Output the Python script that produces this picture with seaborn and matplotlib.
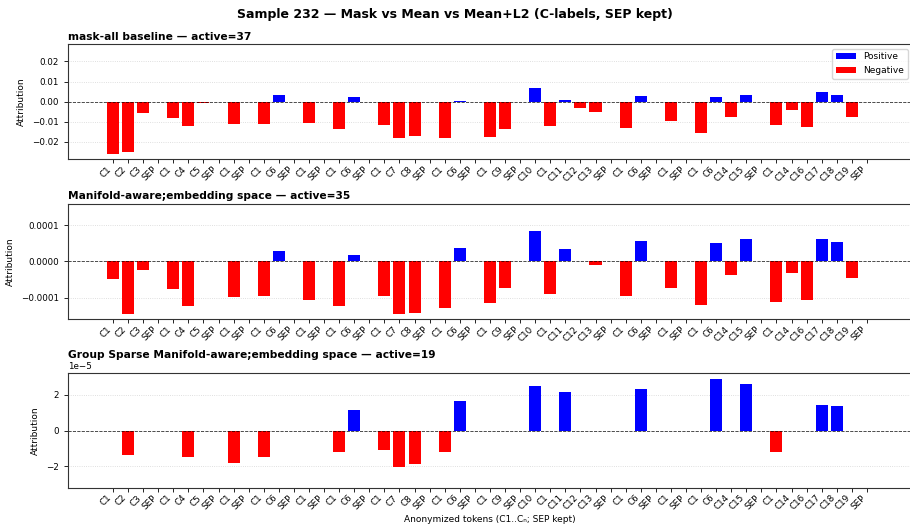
import numpy as np
import pandas as pd
import matplotlib
matplotlib.use("Agg")
import matplotlib.pyplot as plt
import seaborn as sns

tokens = [
    "C1", "C2", "C3", "SEP", "C1", "C4", "C5", "SEP", "C1", "SEP",
    "C1", "C6", "SEP", "C1", "SEP", "C1", "C6", "SEP", "C1", "C7",
    "C8", "SEP", "C1", "C6", "SEP", "C1", "C9", "SEP", "C10", "C1",
    "C11", "C12", "C13", "SEP", "C1", "C6", "SEP", "C1", "SEP", "C1",
    "C6", "C14", "C15", "SEP", "C1", "C14", "C16", "C17", "C18", "C19",
    "SEP",
]

mask_vals = [
    -0.0259, -0.0249, -0.0054, 0.0, -0.0079, -0.0121, -0.0005, 0.0, -0.0111, 0.0,
    -0.0111, 0.0033, 0.0, -0.0108, 0.0, -0.0134, 0.0021, 0.0, -0.0118, -0.0179,
    -0.0172, 0.0, -0.0179, 0.0003, 0.0, -0.0177, -0.0138, 0.0, 0.0066, -0.0121,
    0.0007, -0.0034, -0.0049, 0.0, -0.0131, 0.0028, 0.0, -0.0097, 0.0, -0.0156,
    0.0025, -0.0074, 0.0033, 0.0, -0.0116, -0.0039, -0.0126, 0.0048, 0.0034, -0.0075,
    0.0,
]

mean_vals = [
    -4.9e-5, -14.4e-5, -2.4e-5, 0.0, -7.6e-5, -12.3e-5, 0.0, 0.0, -9.7e-5, 0.0,
    -9.4e-5, 3.0e-5, 0.0, -10.7e-5, 0.0, -12.4e-5, 1.85e-5, 0.0, -9.6e-5, -14.5e-5,
    -14.1e-5, 0.0, -12.9e-5, 3.6e-5, 0.0, -11.5e-5, -7.2e-5, 0.0, 8.5e-5, -9.0e-5,
    3.4e-5, 0.0, -0.93e-5, 0.0, -9.4e-5, 5.5e-5, 0.0, -7.3e-5, 0.0, -12.0e-5,
    5.0e-5, -3.7e-5, 6.1e-5, 0.0, -11.2e-5, -3.1e-5, -10.6e-5, 6.1e-5, 5.3e-5, -4.5e-5,
    0.0,
]

l2_vals = [
    0.0, -1.36e-5, 0.0, 0.0, 0.0, -1.46e-5, 0.0, 0.0, -1.84e-5, 0.0,
    -1.51e-5, 0.0, 0.0, 0.0, 0.0, -1.22e-5, 1.16e-5, 0.0, -1.07e-5, -2.03e-5,
    -1.88e-5, 0.0, -1.22e-5, 1.64e-5, 0.0, 0.0, 0.0, 0.0, 2.49e-5, 0.0,
    2.18e-5, 0.0, 0.0, 0.0, 0.0, 2.32e-5, 0.0, 0.0, 0.0, 0.0,
    2.91e-5, 0.0, 2.62e-5, 0.0, -1.18e-5, 0.0, 0.0, 1.40e-5, 1.38e-5, 0.0,
    0.0,
]

panel_names = [
    "mask-all baseline",
    "Manifold-aware;embedding space",
    "Group Sparse Manifold-aware;embedding space",
]

fig = plt.figure(figsize=(9.1, 5.26), dpi=100)
rects = [
    [0.0744, 0.6977, 0.928, 0.2181],
    [0.0744, 0.3930, 0.928, 0.2201],
    [0.0744, 0.0728, 0.928, 0.2175],
]
palette = {"Positive": "blue", "Negative": "red"}
n = len(tokens)

for i, (vals, name) in enumerate(zip([mask_vals, mean_vals, l2_vals], panel_names)):
    ax = fig.add_axes(rects[i])
    df = pd.DataFrame({
        "pos": np.arange(n),
        "value": vals,
        "sign": ["Positive" if v > 0 else "Negative" for v in vals],
    })
    sns.barplot(
        data=df, x="pos", y="value", hue="sign", order=list(range(n)),
        hue_order=["Positive", "Negative"], palette=palette, dodge=False,
        width=0.8, saturation=1, linewidth=0, legend=(i == 0), ax=ax,
    )
    active = int(np.sum(np.array(vals) != 0))
    ax.set_title(f"{name} — active={active}", loc="left", fontsize=7.7,
                 fontweight="bold", pad=3)
    ax.axhline(0, color="black", linestyle="--", linewidth=0.6, alpha=0.8)
    ax.grid(axis="y", linestyle=":", linewidth=0.6, color="#d5d5d5")
    ax.set_axisbelow(True)
    lim = np.max(np.abs(vals)) * 1.1
    ax.set_ylim(-lim, lim)
    ax.set_xlim(-3, 53)
    ax.set_xticks(range(n))
    ax.set_xticklabels(tokens, rotation=45, ha="right", fontsize=6.3)
    ax.tick_params(axis="y", labelsize=6.3, length=3, width=0.6)
    ax.tick_params(axis="x", length=3, width=0.6, pad=1)
    ax.yaxis.get_offset_text().set_fontsize(6.3)
    ax.set_ylabel("Attribution", fontsize=6.5)
    ax.set_xlabel("")
    for s in ax.spines.values():
        s.set_color("#333333")
        s.set_linewidth(0.8)
    if i == 0:
        ax.legend(loc="upper right", fontsize=6.5, handlelength=2.2,
                  borderpad=0.4, labelspacing=0.5)
    if i == 2:
        ax.set_xlabel("Anonymized tokens (C1..Cₙ; SEP kept)", fontsize=6.5,
                      labelpad=2)

fig.suptitle("Sample 232 — Mask vs Mean vs Mean+L2 (C-labels, SEP kept)",
             fontsize=9, fontweight="bold", x=0.5, y=0.984)
fig.savefig("out.png", dpi=100)
